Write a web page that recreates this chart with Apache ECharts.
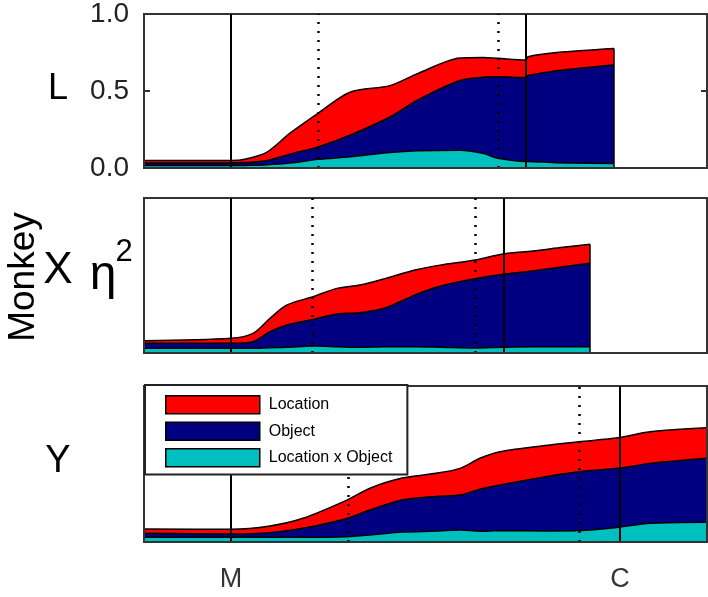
<!DOCTYPE html>
<html><head><meta charset="utf-8">
<script src="https://cdn.jsdelivr.net/npm/echarts@6/dist/echarts.min.js"></script>
<style>html,body{margin:0;padding:0;background:#fff}#c{width:708px;height:597px}</style>
</head><body><div id="c"></div>
<script>
// ---- data (x = time relative to the M event, arbitrary units; y = eta^2 per factor) ----
const names = ['Location', 'Object', 'Location x Object'];

const p1X     = [-87, 0, 15, 36, 59, 87, 119, 159, 186, 229, 252, 267, 295, 297, 326, 383];
const p1Inter = [.016,.016,.017,.021,.032,.056,.073,.101,.112,.116,.095,.063,.043,.043,.034,.030];
const p1Obj   = [.016,.016,.018,.027,.058,.081,.140,.230,.327,.452,.494,.529,.544,.557,.598,.639];
const p1Loc   = [.016,.016,.023,.055,.136,.218,.279,.204,.172,.146,.129,.120,.114,.123,.118,.107];
const p1Events = {solid: [0, 295], dotted: [87, 267]};

const p2X     = [-87, 0, 22, 39, 56, 82, 106, 129, 154, 184, 209, 244, 272, 302, 332, 359];
const p2Inter = [.030,.030,.030,.034,.037,.045,.041,.037,.040,.040,.037,.032,.037,.040,.040,.040];
const p2Obj   = [.033,.033,.043,.103,.144,.172,.211,.223,.250,.335,.394,.447,.471,.489,.517,.539];
const p2Loc   = [.016,.032,.054,.087,.129,.146,.165,.179,.190,.160,.136,.121,.131,.129,.125,.122];
const p2Events = {solid: [0, 273], dotted: [81, 244]};

const p3X     = [-87, 0, 39, 72, 116, 139, 171, 205, 229, 249, 269, 319, 348, 387, 419, 476];
const p3Inter = [.030,.030,.030,.030,.034,.045,.064,.070,.077,.069,.073,.071,.073,.094,.120,.127];
const p3Obj   = [.026,.021,.030,.058,.117,.160,.205,.222,.224,.269,.292,.352,.378,.378,.384,.410];
const p3Loc   = [.027,.031,.043,.064,.118,.140,.141,.148,.171,.199,.214,.199,.192,.196,.203,.195];
const p3Events = {solid: [0, 389], dotted: [117, 348]};

const yTicks = [0, 0.5, 1.0];
const xTickValues = [0, 389];
const xTickLabels = ['M', 'C'];
const xMin = -87, xMax = 476;

// ---- layout ----
const FONT = 'Liberation Sans, Arial, sans-serif';
const grids = [
  {left: 144, width: 563, top: 13, height: 155},
  {left: 144, width: 563, top: 198, height: 155},
  {left: 144, width: 563, top: 386, height: 156}
];
const panels = [
  {x: p1X, loc: p1Loc, obj: p1Obj, inter: p1Inter, ev: p1Events},
  {x: p2X, loc: p2Loc, obj: p2Obj, inter: p2Inter, ev: p2Events},
  {x: p3X, loc: p3Loc, obj: p3Obj, inter: p3Inter, ev: p3Events}
];
const colorOf = {'Location': '#ff0000', 'Object': '#000080', 'Location x Object': '#00bfbf'};

const xAxes = [], yAxes = [], series = [];
panels.forEach((p, i) => {
  const isLast = i === 2;
  xAxes.push({
    type: 'value', gridIndex: i, min: xMin, max: xMax, z: 10,
    axisLine: {show: true, onZero: false, lineStyle: {color: '#333', width: 2}},
    axisTick: {show: false},
    splitLine: {show: false},
    axisLabel: isLast ? {
      show: true, customValues: xTickValues, fontSize: 27, color: '#333', fontFamily: FONT, margin: 24,
      formatter: v => xTickLabels[xTickValues.indexOf(v)] || ''
    } : {show: false}
  });
  yAxes.push({
    type: 'value', gridIndex: i, min: 0, max: 1, interval: 0.5, z: 10,
    axisLine: {show: true, onZero: false, lineStyle: {color: '#333', width: 2}},
    axisTick: {show: i === 0, inside: true, length: 6, lineStyle: {color: '#333', width: 2}},
    splitLine: {show: false},
    axisLabel: i === 0 ? {
      show: true, fontSize: 28, color: '#222', fontFamily: FONT, margin: 15,
      formatter: v => yTicks.includes(v) ? v.toFixed(1) : ''
    } : {show: false}
  });
  yAxes.push({
    type: 'value', gridIndex: i, min: 0, max: 1, interval: 0.5, position: 'right', z: 10,
    axisLine: {show: true, onZero: false, lineStyle: {color: '#333', width: 2}},
    axisTick: {show: i === 0, inside: true, length: 6, lineStyle: {color: '#333', width: 2}},
    splitLine: {show: false},
    axisLabel: {show: false}
  });
  // cumulative tops (stacked: interaction at bottom, object, location on top)
  const cInter = p.inter.slice();
  const cObj = p.obj.map((v, j) => v + p.inter[j]);
  const cLoc = p.loc.map((v, j) => v + cObj[j]);
  const lastIdx = p.x.length - 1;
  const mlData = [];
  p.ev.solid.forEach(v => mlData.push({xAxis: v, lineStyle: {type: 'solid', width: 2, color: '#000'}}));
  p.ev.dotted.forEach(v => mlData.push({xAxis: v, lineStyle: {type: [2, 7], width: 2.5, color: '#000'}}));
  if (p.x[lastIdx] < xMax) {
    mlData.push([{coord: [p.x[lastIdx], 0], lineStyle: {type: 'solid', width: 1.5, color: '#000'}},
                 {coord: [p.x[lastIdx], cLoc[lastIdx]]}]);
  }
  [['Location', cLoc], ['Object', cObj], ['Location x Object', cInter]].forEach(([nm, arr], k) => {
    const s = {
      type: 'line', name: nm, xAxisIndex: i, yAxisIndex: i * 2, z: 2 + k,
      smooth: 0.3,
      showSymbol: false, symbol: 'none', silent: true, animation: false,
      data: p.x.map((x, j) => [x, arr[j]]),
      itemStyle: {color: colorOf[nm]},
      lineStyle: {color: '#000', width: 1.5},
      areaStyle: {color: colorOf[nm], opacity: 1, origin: 'start'}
    };
    if (k === 2) {
      s.markLine = {
        silent: true, symbol: 'none', animation: false, z: 8,
        label: {show: false},
        lineStyle: {color: '#000', width: 2, type: 'solid'},
        data: mlData
      };
    }
    series.push(s);
  });
});

const chart = echarts.init(document.getElementById('c'), null, {renderer: 'canvas'});
chart.setOption({
  animation: false,
  backgroundColor: '#fff',
  grid: grids.map(g => Object.assign({show: true, borderColor: '#333', borderWidth: 2, backgroundColor: 'transparent'}, g)),
  xAxis: xAxes,
  yAxis: yAxes,
  legend: {
    orient: 'vertical', left: 145, top: 385, z: 20,
    data: names.map(n => ({name: n, icon: 'rect'})),
    itemWidth: 94, itemHeight: 18, itemGap: 7,
    itemStyle: {borderColor: '#000', borderWidth: 1.5},
    textStyle: {fontSize: 16, color: '#000', fontFamily: FONT, padding: [0, 0, 0, 4]},
    backgroundColor: '#fff', borderColor: '#222', borderWidth: 2,
    padding: [10, 15, 7, 20], selectedMode: false
  },
  graphic: [
    {type: 'text', x: 58, y: 89, style: {text: 'L', fontSize: 36, fontFamily: FONT, fill: '#000', align: 'center', verticalAlign: 'middle'}},
    {type: 'text', x: 24, y: 277, rotation: Math.PI / 2, style: {text: 'Monkey', fontSize: 37, fontFamily: FONT, fill: '#000', align: 'center', verticalAlign: 'middle'}},
    {type: 'text', x: 58, y: 271, style: {text: 'X', fontSize: 44, fontFamily: FONT, fill: '#000', align: 'center', verticalAlign: 'middle'}},
    {type: 'text', x: 103, y: 276, style: {text: 'η', fontSize: 48, fontFamily: FONT, fill: '#000', align: 'center', verticalAlign: 'middle'}},
    {type: 'text', x: 124, y: 252, style: {text: '2', fontSize: 31, fontFamily: FONT, fill: '#000', align: 'center', verticalAlign: 'middle'}},
    {type: 'text', x: 58, y: 462, style: {text: 'Y', fontSize: 38, fontFamily: FONT, fill: '#000', align: 'center', verticalAlign: 'middle'}}
  ],
  series: series
});
</script>
</body></html>
